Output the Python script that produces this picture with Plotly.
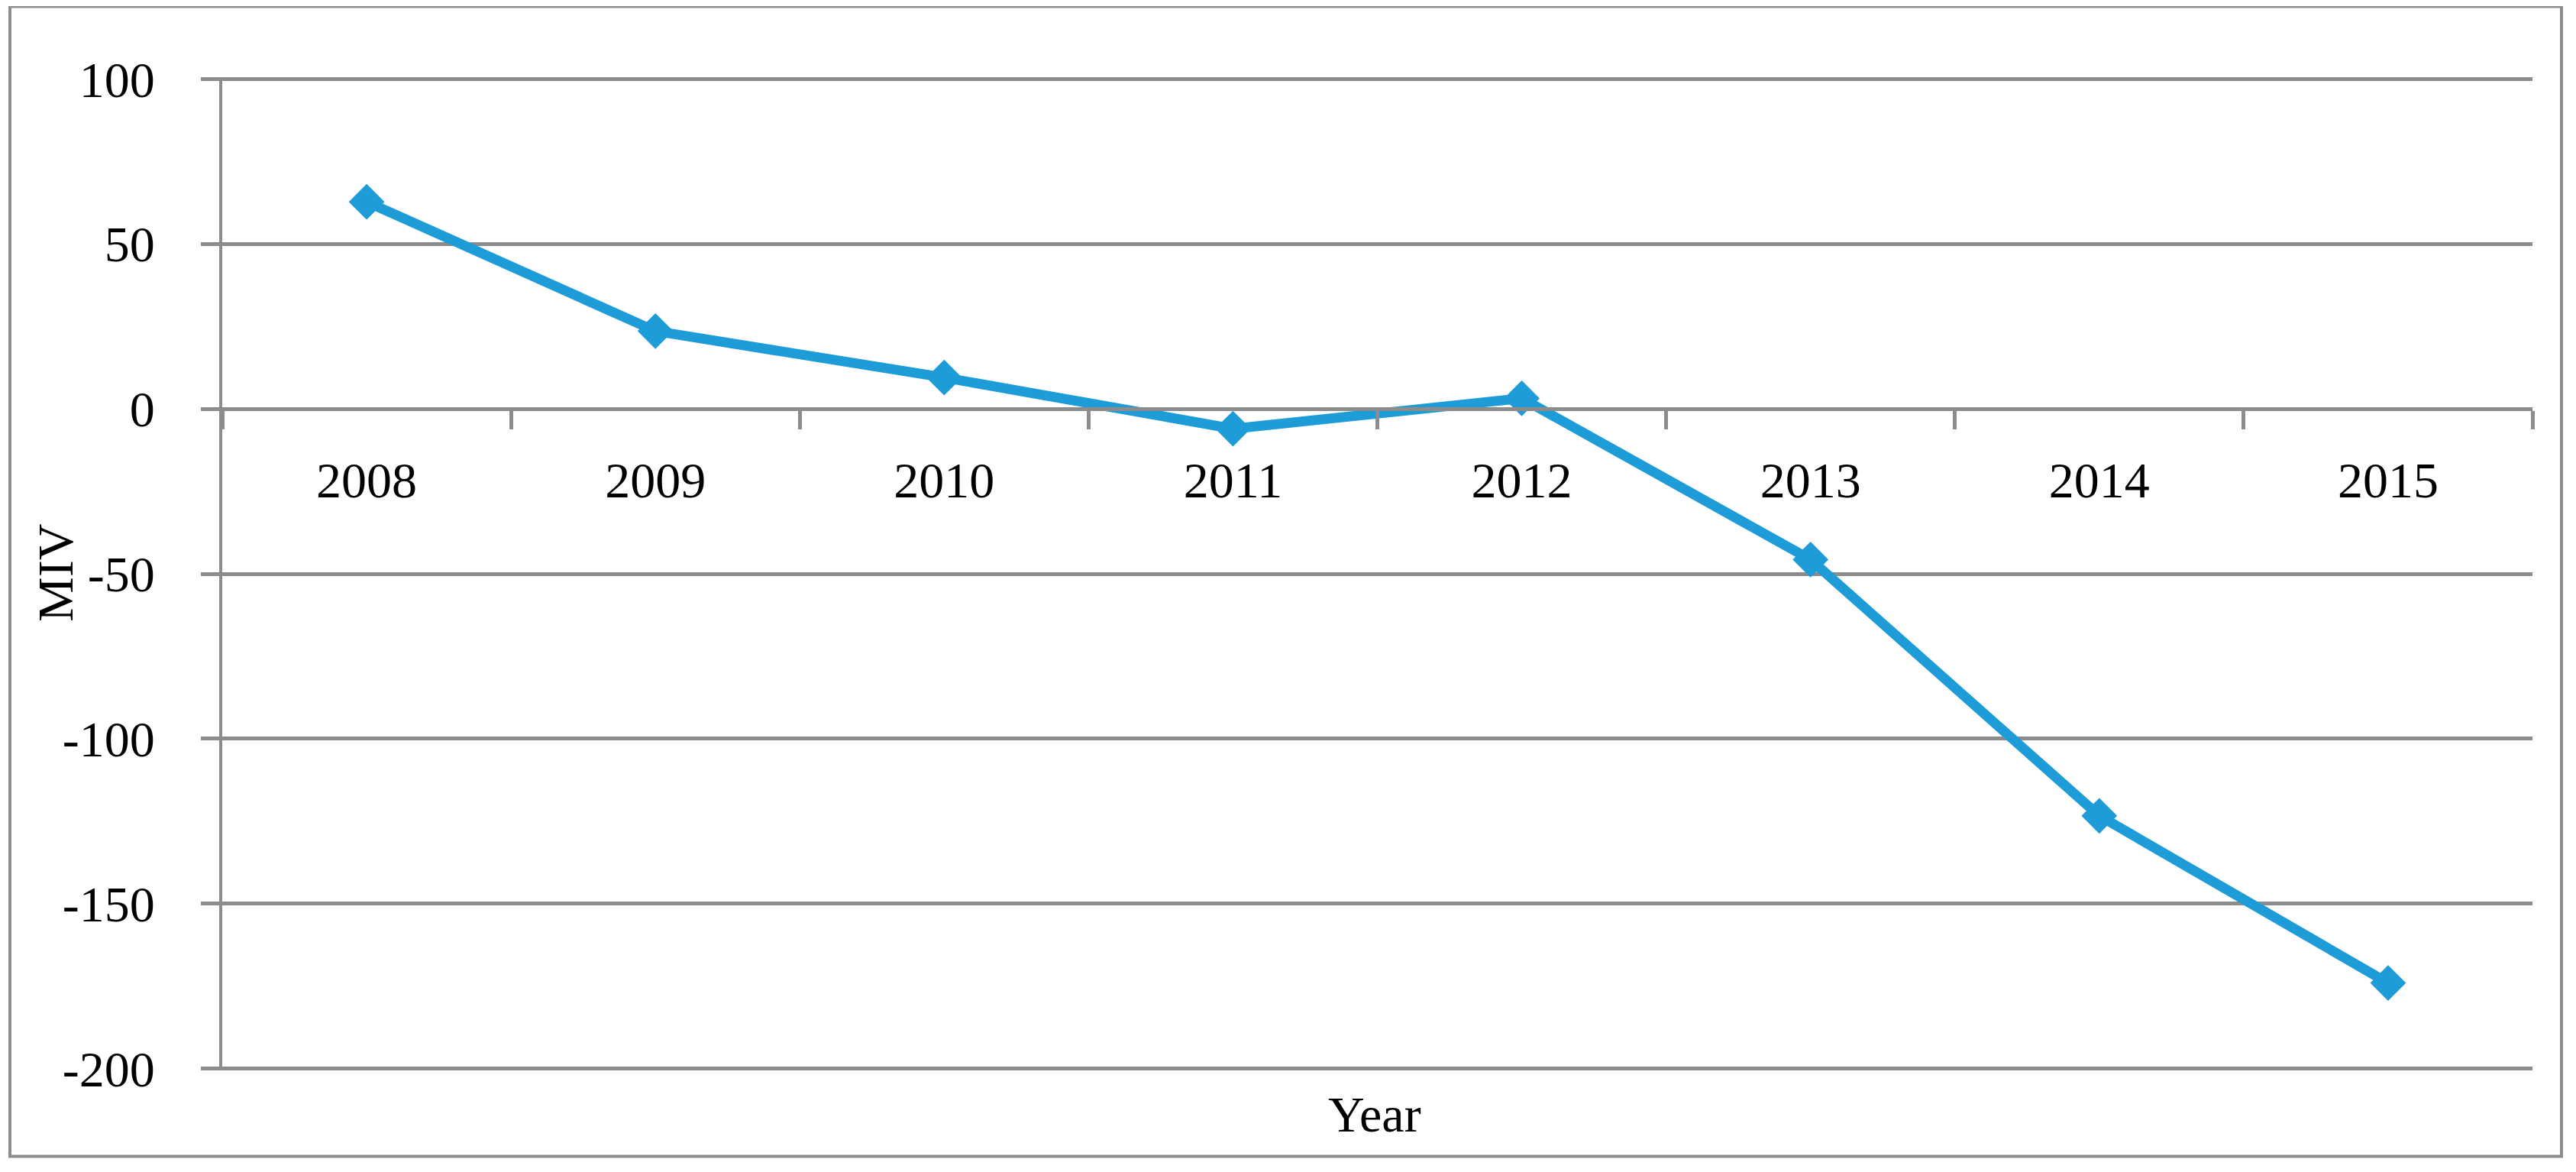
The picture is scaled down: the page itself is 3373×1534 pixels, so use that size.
import plotly.graph_objects as go

years = ["2008", "2009", "2010", "2011", "2012", "2013", "2014", "2015"]
miv = [62.8, 23.6, 9.5, -6.0, 3.2, -45.7, -123.4, -174.1]
y_ticks = [100, 50, 0, -50, -100, -150, -200]

# page offset (body margin) compensation
OFF = 8
W, H = 3373 - 2 * OFF, 1534 - 2 * OFF

# target page-pixel geometry of the plot area
X0, X1 = 291, 3316          # left/right of plot area
Y_TOP, Y_BOT = 104, 1398    # pixel rows of 100 and -200
YMIN, YMAX = -200, 100
EXT = 0.6                   # tiny range extension so edge gridlines are drawn
ppu = (Y_BOT - Y_TOP) / (YMAX - YMIN)
r0, r1 = YMIN - EXT, YMAX + EXT

L = X0 - OFF
R = W - (X1 - OFF)
T = (Y_TOP - EXT * ppu) - OFF
B = H - ((Y_BOT + EXT * ppu) - OFF)
pw, ph = W - L - R, H - T - B

def px_x(p):
    return (p - OFF - L) / pw

def px_y(p):
    return (H - B - (p - OFF)) / ph

GRID = "#8C8C8C"
BLUE = "#1E9CD8"
FONT = dict(family="Liberation Serif, Times New Roman, serif", size=66, color="black")

fig = go.Figure()
fig.add_trace(go.Scatter(
    x=years, y=miv, mode="lines+markers",
    line=dict(color=BLUE, width=13),
    marker=dict(symbol="diamond", size=36, color=BLUE),
    showlegend=False,
))

fig.update_layout(
    width=W, height=H,
    margin=dict(l=L, r=R, t=T, b=B, autoexpand=False),
    paper_bgcolor="white", plot_bgcolor="white",
    font=FONT,
    xaxis=dict(
        type="category", range=[-0.5, 7.5],
        anchor="free", position=(0 - r0) / (r1 - r0),
        showline=True, linecolor=GRID, linewidth=5,
        showgrid=False, zeroline=False,
        ticks="outside", tickson="boundaries", ticklen=24, tickwidth=5, tickcolor=GRID,
        ticklabelstandoff=34,
        tickfont=FONT,
    ),
    yaxis=dict(
        range=[r0, r1], tickmode="array", tickvals=y_ticks,
        ticktext=[str(v) for v in y_ticks],
        showline=True, linecolor=GRID, linewidth=4,
        showgrid=True, gridcolor=GRID, gridwidth=5,
        zeroline=False,
        ticks="outside", ticklen=24, tickwidth=5, tickcolor=GRID,
        ticklabelstandoff=47,
        tickfont=FONT,
    ),
    shapes=[dict(
        type="rect", xref="paper", yref="paper",
        x0=px_x(13), x1=px_x(3354), y0=px_y(1513), y1=px_y(9),
        line=dict(color=GRID, width=4), fillcolor="rgba(0,0,0,0)", layer="below",
    )],
    annotations=[
        dict(text="Year", xref="paper", yref="paper", x=px_x(1800), y=px_y(1458),
             xanchor="center", yanchor="middle", showarrow=False, font=FONT),
        dict(text="MIV", xref="paper", yref="paper", x=px_x(73), y=px_y(750),
             xanchor="center", yanchor="middle", textangle=-90, showarrow=False, font=FONT),
    ],
)

fig.write_html("out.html")
